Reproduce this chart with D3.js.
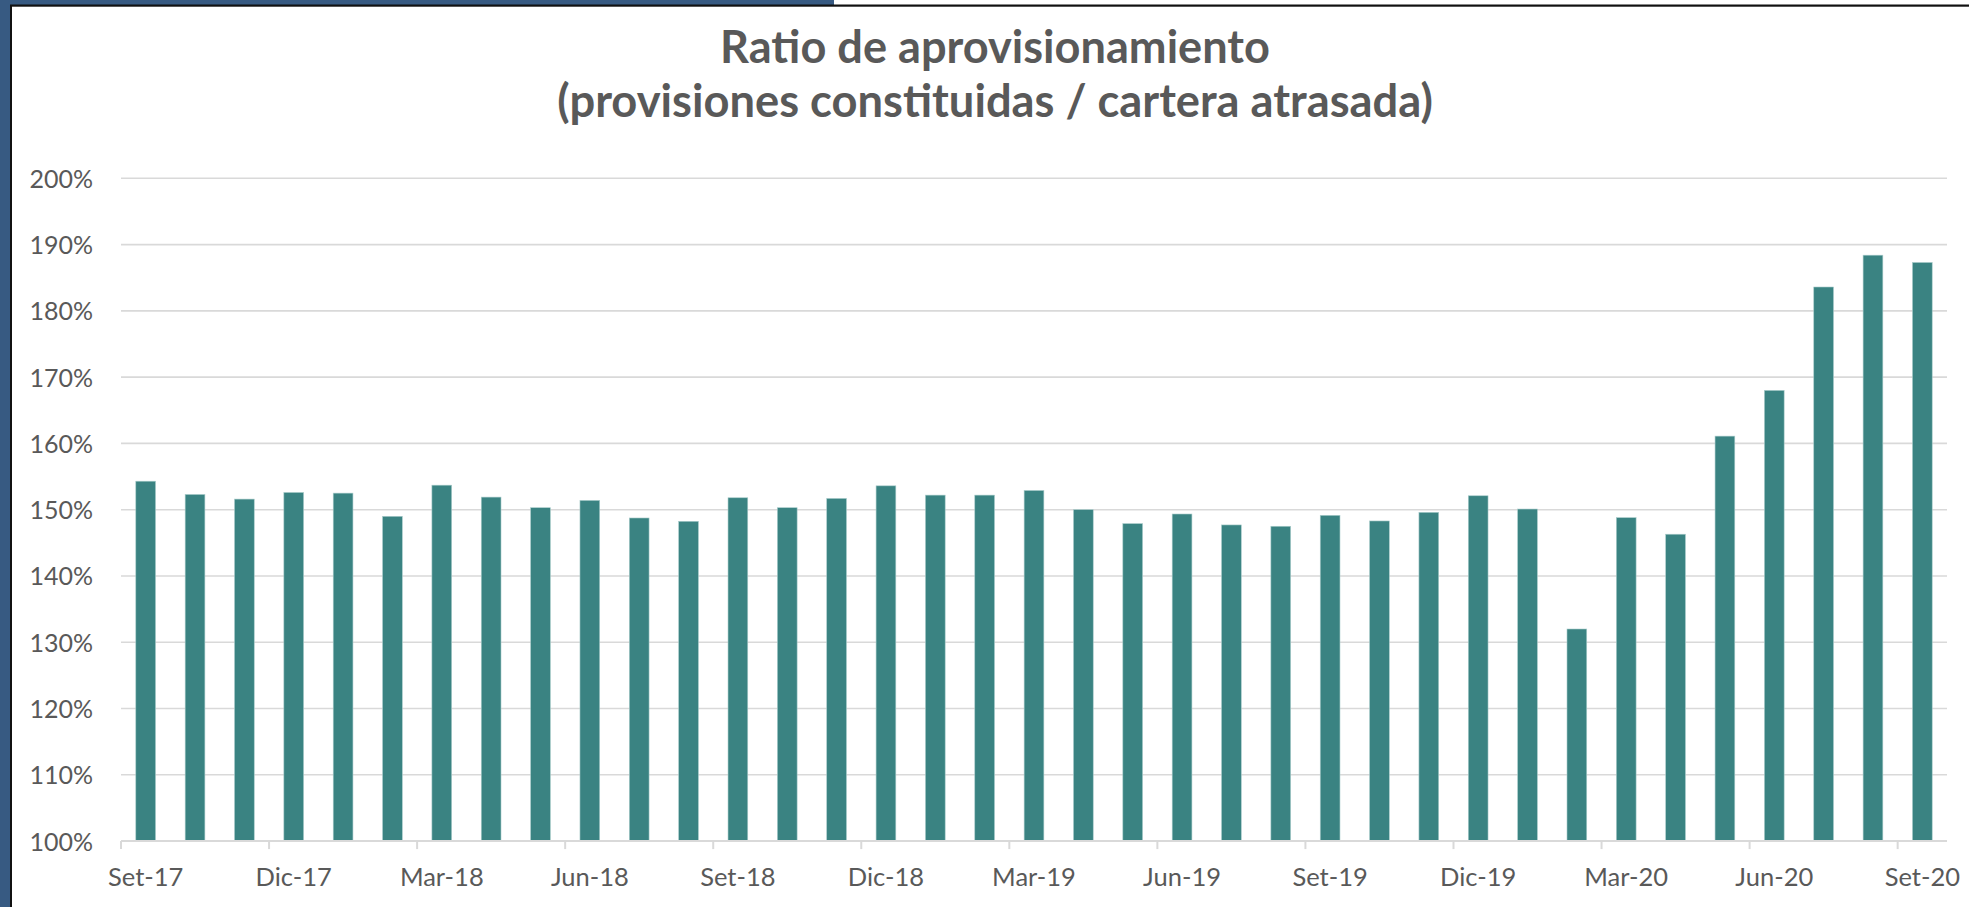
<!DOCTYPE html>
<html>
<head>
<meta charset="utf-8">
<script src="https://cdn.jsdelivr.net/npm/d3@7"></script>
<style>
  html, body { margin: 0; padding: 0; background: #ffffff; }
  svg { display: block; }
</style>
</head>
<body>
<svg id="chart" width="1969" height="907"></svg>
<script>
// ---- Data ----
const titleLines = ["Ratio de aprovisionamiento", "(provisiones constituidas / cartera atrasada)"];
const categories = [
  "Set-17","Oct-17","Nov-17","Dic-17","Ene-18","Feb-18","Mar-18","Abr-18","May-18","Jun-18",
  "Jul-18","Ago-18","Set-18","Oct-18","Nov-18","Dic-18","Ene-19","Feb-19","Mar-19","Abr-19",
  "May-19","Jun-19","Jul-19","Ago-19","Set-19","Oct-19","Nov-19","Dic-19","Ene-20","Feb-20",
  "Mar-20","Abr-20","May-20","Jun-20","Jul-20","Ago-20","Set-20"
];
const ratioValues = [
  1.543, 1.523, 1.516, 1.526, 1.525, 1.490, 1.537, 1.519, 1.503, 1.514,
  1.4875, 1.4825, 1.518, 1.503, 1.517, 1.536, 1.522, 1.522, 1.529, 1.500,
  1.479, 1.4935, 1.477, 1.475, 1.4915, 1.483, 1.496, 1.521, 1.501, 1.320,
  1.488, 1.463, 1.611, 1.680, 1.836, 1.884, 1.873
];
const yTickValues = [1.0, 1.1, 1.2, 1.3, 1.4, 1.5, 1.6, 1.7, 1.8, 1.9, 2.0];
const xTickLabels = categories.filter((d, i) => i % 3 === 0);

// ---- Layout ----
const W = 1969, H = 907;
const plot = { left: 121, right: 1947, top: 178.3, bottom: 841.1 };
const textColor = "#595959";
const gridColor = "#d9d9d9";
const barColor = "#3a8382";
const fontFamily = "Lato, 'Open Sans', sans-serif";

const svg = d3.select("#chart");

// Frame: blue strip, black frame lines
svg.append("rect").attr("x", 0).attr("y", 0).attr("width", W).attr("height", H).attr("fill", "#ffffff");
svg.append("rect").attr("x", 0).attr("y", 0).attr("width", 10).attr("height", H).attr("fill", "#375a82");
svg.append("rect").attr("x", 0).attr("y", 0).attr("width", 834).attr("height", 5).attr("fill", "#375a82");
svg.append("rect").attr("x", 10).attr("y", 5).attr("width", 2).attr("height", H - 5).attr("fill", "#111");
svg.append("rect").attr("x", 10).attr("y", 4.5).attr("width", W - 10).attr("height", 2.2).attr("fill", "#111");

// Scales
const x = d3.scaleBand()
  .domain(categories)
  .range([plot.left, plot.right])
  .paddingInner(0.6)
  .paddingOuter(0.3);
const step = x.step();

const y = d3.scaleLinear()
  .domain([1.0, 2.0])
  .range([plot.bottom, plot.top]);

// Gridlines
svg.append("g")
  .selectAll("line")
  .data(yTickValues.filter(v => v > 1.0))
  .join("line")
  .attr("x1", plot.left).attr("x2", plot.right)
  .attr("y1", d => y(d)).attr("y2", d => y(d))
  .attr("stroke", gridColor).attr("stroke-width", 1.6);

// Y axis labels
const yAxis = d3.axisLeft(y)
  .tickValues(yTickValues)
  .tickFormat(d => Math.round(d * 100) + "%")
  .tickSize(0)
  .tickPadding(0);
const gy = svg.append("g").attr("transform", `translate(93,0)`).call(yAxis);
gy.select(".domain").remove();
gy.selectAll("text")
  .attr("fill", textColor)
  .attr("font-family", fontFamily)
  .attr("font-size", 25)
  .attr("dy", "0.36em");

// Bars
svg.append("g")
  .selectAll("rect")
  .data(categories.map((c, i) => ({ c, v: ratioValues[i] })))
  .join("rect")
  .attr("x", d => x(d.c))
  .attr("width", x.bandwidth())
  .attr("y", d => y(d.v))
  .attr("height", d => y(1.0) - y(d.v))
  .attr("fill", barColor)
  .attr("stroke", "#a9cccb")
  .attr("stroke-width", 0.6);

// X axis
const xAxis = d3.axisBottom(x)
  .tickValues(xTickLabels)
  .tickSize(8)
  .tickPadding(19);
const gx = svg.append("g").attr("transform", `translate(0,${plot.bottom})`).call(xAxis);
gx.select(".domain")
  .attr("d", `M${plot.left},0H${plot.right}`)
  .attr("stroke", gridColor).attr("stroke-width", 2);
gx.selectAll(".tick line")
  .attr("x1", -step / 2).attr("x2", -step / 2)
  .attr("stroke", gridColor).attr("stroke-width", 2);
gx.selectAll(".tick text")
  .attr("fill", textColor)
  .attr("font-family", fontFamily)
  .attr("font-size", 25.5);

// Title
const titleTargets = [550, 876];
const titleBaselines = [63, 117];
titleLines.forEach((t, i) => {
  const el = svg.append("text")
    .attr("x", 995)
    .attr("y", titleBaselines[i])
    .attr("text-anchor", "middle")
    .attr("font-family", fontFamily)
    .attr("font-weight", "bold")
    .attr("font-size", 36)
    .attr("fill", textColor)
    .text(t);
  const len = el.node().getComputedTextLength();
  if (len > 0) el.attr("font-size", 36 * titleTargets[i] / len);
});
</script>
</body>
</html>
